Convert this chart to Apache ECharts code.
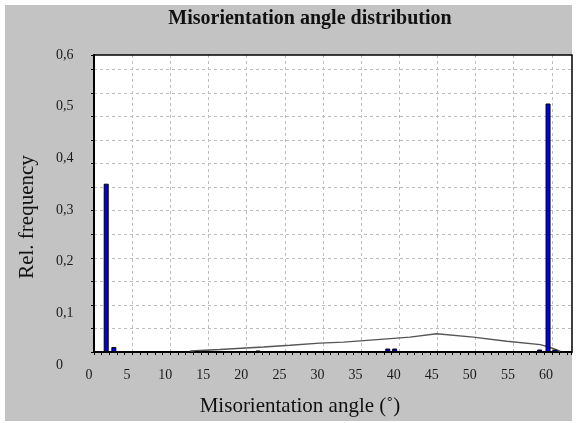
<!DOCTYPE html>
<html>
<head>
<meta charset="utf-8">
<script src="https://cdn.jsdelivr.net/npm/echarts@6/dist/echarts.min.js"></script>
<style>
  html, body { margin: 0; padding: 0; background: #ffffff; }
  #panel { position: absolute; left: 5px; top: 5px; width: 567px; height: 416px; background: #c3c3c3; }
  #chart { position: absolute; left: 0; top: 0; width: 576px; height: 423px; }
</style>
</head>
<body>
<div id="panel"></div>
<div id="chart"></div>
<script>
// ---- data ----
var chartTitle = "Misorientation angle distribution";
var xTitle = "Misorientation angle (\u02da)";
var yTitle = "Rel. frequency";

// measured misorientation histogram (bin centre in degrees, relative frequency)
var binAngles = [1.6, 2.6, 13.5, 14.5, 15.5, 16.5, 21.5, 38.5, 39.4, 58.4, 59.5, 60.4];
var binFreqs  = [0.340, 0.010, 0.002, 0.002, 0.002, 0.0015, 0.003, 0.007, 0.007, 0.005, 0.502, 0.005];

// random (Mackenzie) reference curve
var randomAngles = [12.6, 16.5, 22.2, 25.7, 29.6, 32.7, 37.1, 41.4, 44.9, 49.7, 54.1, 58.5, 60.2, 61.1];
var randomFreqs  = [0.002, 0.005, 0.010, 0.0135, 0.018, 0.020, 0.025, 0.030, 0.037, 0.030, 0.0216, 0.015, 0.007, 0.0015];

// tick labels
var xTickValues = [0, 5, 10, 15, 20, 25, 30, 35, 40, 45, 50, 55, 60];
var yTickValues = [0, 0.1, 0.2, 0.3, 0.4, 0.5, 0.6];

// ---- build ----
var serif = "'Liberation Serif', 'Times New Roman', serif";
var barData = binAngles.map(function (a, i) { return [a, binFreqs[i]]; });
var lineData = randomAngles.map(function (a, i) { return [a, randomFreqs[i]]; });

var chart = echarts.init(document.getElementById('chart'), null, { renderer: 'canvas' });
var gridDash = { color: '#bdbdbd', width: 1, type: [3, 3] };

chart.setOption({
  backgroundColor: 'transparent',
  animation: false,
  grid: [
    { left: 94, top: 55, width: 477.7, height: 297, show: true, backgroundColor: '#ffffff', borderWidth: 0 },
    { left: 94, top: 55, width: 10, height: 310, show: false },
    { left: 89, width: 476.8, top: 55, bottom: 63, show: false }
  ],
  xAxis: [
    { type: 'value', gridIndex: 0, min: 0, max: 62.6, interval: 5,
      axisLine: { show: true, onZero: false, lineStyle: { color: '#000', width: 2 } },
      axisTick: { show: true, length: 3, lineStyle: { color: '#000' } },
      minorTick: { show: true, splitNumber: 5, length: 3, lineStyle: { color: '#000' } },
      axisLabel: { show: false },
      splitLine: { show: true, showMinLine: false, showMaxLine: false, lineStyle: gridDash } },
    { type: 'value', gridIndex: 1, show: false },
    { type: 'value', gridIndex: 2, min: 0, max: 62.6, interval: 5, position: 'bottom',
      axisLine: { show: false }, axisTick: { show: false }, splitLine: { show: false },
      axisLabel: { show: true, margin: 8, fontFamily: serif, fontSize: 14, color: '#1a1a1a',
        formatter: function (v) { return xTickValues.indexOf(v) >= 0 ? String(v) : ''; } } },
    { type: 'value', gridIndex: 0, min: 0, max: 62.6, position: 'top',
      axisLine: { show: true, onZero: false, lineStyle: { color: '#000', width: 1.5 } },
      axisTick: { show: false }, axisLabel: { show: false }, splitLine: { show: false } }
  ],
  yAxis: [
    { type: 'value', gridIndex: 0, min: 0, max: 0.6,
      axisLine: { show: true, onZero: false, lineStyle: { color: '#000', width: 2 } },
      axisTick: { show: false }, axisLabel: { show: false }, splitLine: { show: false } },
    { type: 'value', gridIndex: 0, min: 0, max: 12.61, interval: 1, position: 'left',
      axisLine: { show: false },
      axisTick: { show: true, length: 3, lineStyle: { color: '#000' } },
      axisLabel: { show: false },
      splitLine: { show: true, showMinLine: false, showMaxLine: false, lineStyle: gridDash } },
    { type: 'value', gridIndex: 1, min: 0, max: 0.6, interval: 0.1,
      axisLine: { show: false }, axisTick: { show: false }, splitLine: { show: false },
      axisLabel: { show: true, margin: 38, align: 'left', fontFamily: serif, fontSize: 14, color: '#1a1a1a',
        formatter: function (v) { var r = Math.round(v * 10) / 10; return yTickValues.indexOf(r) >= 0 ? String(r).replace('.', ',') : ''; } } },
    { type: 'value', gridIndex: 2, show: false },
    { type: 'value', gridIndex: 0, min: 0, max: 0.6, position: 'right',
      axisLine: { show: true, onZero: false, lineStyle: { color: '#000', width: 1.5 } },
      axisTick: { show: false }, axisLabel: { show: false }, splitLine: { show: false } }
  ],
  series: [
    { type: 'line', xAxisIndex: 0, yAxisIndex: 0, data: lineData, symbol: 'none',
      lineStyle: { color: '#555555', width: 1.4 }, z: 3 },
    { type: 'bar', xAxisIndex: 0, yAxisIndex: 0, data: barData, barWidth: 5,
      itemStyle: { color: '#0000e6', borderColor: '#000', borderWidth: 1 }, z: 4 }
  ],
  graphic: [
    { type: 'text', x: 310, y: 19, style: { text: chartTitle, font: "bold 20px " + serif, fill: '#111', textAlign: 'center', textVerticalAlign: 'middle' } },
    { type: 'text', x: 300, y: 406, style: { text: xTitle, font: "21px " + serif, fill: '#111', textAlign: 'center', textVerticalAlign: 'middle' } },
    { type: 'text', x: 27, y: 217, rotation: Math.PI / 2, style: { text: yTitle, font: "21px " + serif, fill: '#111', textAlign: 'center', textVerticalAlign: 'middle' } }
  ]
});
</script>
</body>
</html>
